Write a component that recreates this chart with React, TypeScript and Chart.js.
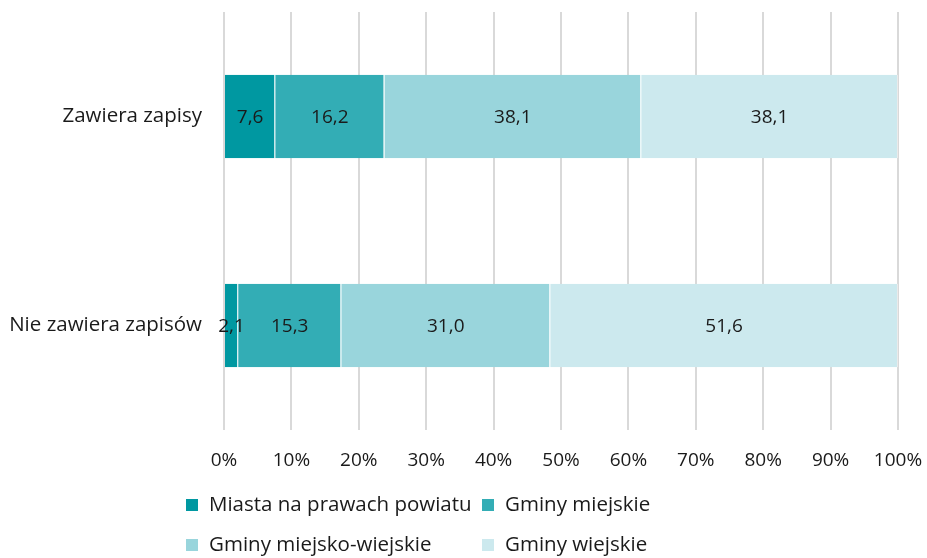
import React, { useEffect, useRef } from "react";
import { Chart, registerables } from "chart.js";

Chart.register(...registerables);

const categories = ["Zawiera zapisy", "Nie zawiera zapisów"];
const seriesNames = [
  "Miasta na prawach powiatu",
  "Gminy miejskie",
  "Gminy miejsko-wiejskie",
  "Gminy wiejskie",
];
const miasta = [7.6, 2.1];
const gminyMiejskie = [16.2, 15.3];
const gminyMiejskoWiejskie = [38.1, 31.0];
const gminyWiejskie = [38.1, 51.6];
const colors = ["#0098a1", "#33adb5", "#99d5dc", "#cce9ee"];
const xTicks = [0, 10, 20, 30, 40, 50, 60, 70, 80, 90, 100];

const FONT = "'Open Sans'";
const FS_TEXT = 20.5;
const FS_NUM = 19;

export default function App() {
  const ref = useRef<HTMLCanvasElement | null>(null);
  useEffect(() => {
    document.body.style.margin = "0";
    const values = [miasta, gminyMiejskie, gminyMiejskoWiejskie, gminyWiejskie];
    const valueLabels = {
      id: "valueLabels",
      afterDatasetsDraw(chart: any) {
        const ctx = chart.ctx;
        ctx.save();
        ctx.font = `${FS_NUM}px ${FONT}`;
        ctx.fillStyle = "#1a1a1a";
        ctx.textAlign = "center";
        ctx.textBaseline = "middle";
        chart.data.datasets.forEach((ds: any, di: number) => {
          const meta = chart.getDatasetMeta(di);
          meta.data.forEach((bar: any, i: number) => {
            const v = ds.data[i];
            const cx = (bar.x + bar.base) / 2;
            ctx.fillText(v.toFixed(1).replace(".", ","), cx, bar.y + 1);
          });
        });
        ctx.restore();
      },
    };
    const legendPlugin = {
      id: "customLegend",
      afterDraw(chart: any) {
        const ctx = chart.ctx;
        ctx.save();
        ctx.font = `${FS_TEXT}px ${FONT}`;
        ctx.textBaseline = "middle";
        ctx.textAlign = "left";
        const cols = [186, 482];
        const rows = [505, 545];
        chart.data.datasets.forEach((ds: any, i: number) => {
          const x = cols[i % 2];
          const y = rows[Math.floor(i / 2)];
          ctx.fillStyle = ds.backgroundColor;
          ctx.fillRect(x, y - 6, 12, 12);
          ctx.fillStyle = "#1a1a1a";
          ctx.fillText(ds.label, x + 23, y);
        });
        ctx.restore();
      },
    };
    const zeroPad = (axis: any) => {
      axis.paddingLeft = 0;
      axis.paddingRight = 0;
      axis.paddingTop = 0;
      axis.paddingBottom = 0;
    };
    const chart = new Chart(ref.current as HTMLCanvasElement, {
      type: "bar",
      data: {
        labels: categories,
        datasets: seriesNames.map((name, i) => ({
          label: name,
          data: values[i],
          backgroundColor: colors[i],
          borderColor: "rgba(255,255,255,0.45)",
          borderWidth: { left: 0, right: 1, top: 0, bottom: 0 },
          borderSkipped: false,
          barPercentage: 0.4,
          categoryPercentage: 1,
        })),
      },
      options: {
        indexAxis: "y",
        animation: false,
        responsive: false,
        maintainAspectRatio: false,
        layout: { padding: { top: 12, right: 29, bottom: 88, left: 0 } },
        plugins: { legend: { display: false }, tooltip: { enabled: false } },
        scales: {
          x: {
            stacked: true,
            min: 0,
            max: 100,
            afterBuildTicks: (axis: any) => {
              axis.ticks = xTicks.map((v) => ({ value: v }));
            },
            afterFit: (axis: any) => {
              axis.height = 40;
              zeroPad(axis);
            },
            grid: { color: "#d9d9d9", lineWidth: 2, drawTicks: false },
            border: { display: false },
            ticks: {
              padding: 19,
              color: "#1a1a1a",
              font: { family: FONT, size: FS_NUM },
              callback: (v: any) => `${v}%`,
              maxRotation: 0,
            },
          },
          y: {
            stacked: true,
            afterFit: (axis: any) => {
              axis.width = 224;
              zeroPad(axis);
            },
            grid: { display: false, drawTicks: false },
            border: { display: false },
            ticks: {
              padding: 22,
              color: "#1a1a1a",
              font: { family: FONT, size: FS_TEXT },
            },
          },
        },
      },
      plugins: [valueLabels, legendPlugin],
    });
    return () => chart.destroy();
  }, []);
  return <canvas ref={ref} width={927} height={558} style={{ display: "block" }} />;
}
